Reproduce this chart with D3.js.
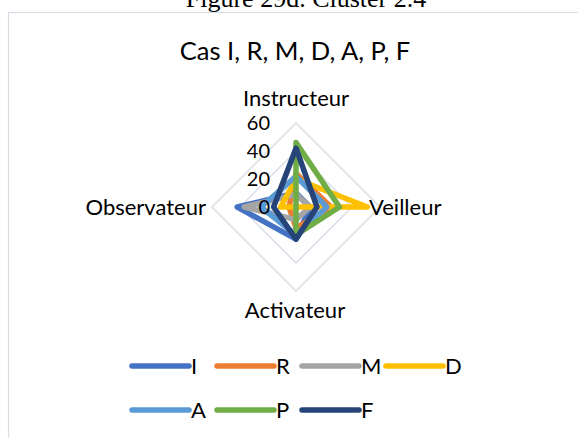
<!DOCTYPE html>
<html><head><meta charset="utf-8">
<script src="https://cdn.jsdelivr.net/npm/d3@7"></script>
<style>body{margin:0;background:#fff}svg{display:block}</style>
</head><body>
<script>
const categories = ["Instructeur","Veilleur","Activateur","Observateur"];
const seriesNames = ["I","R","M","D","A","P","F"];
const I = [10, 10, 23, 42];
const R = [24, 25, 15, 5];
const M = [9, 10, 9, 37];
const D = [20, 51, 0, 11];
const A = [22, 22, 20, 25];
const P = [46, 31, 20, 0];
const F = [42, 15, 23, 16];
const seriesValues = [I, R, M, D, A, P, F];
const colors = ["#4472C4","#ED7D31","#A5A5A5","#FFC000","#5B9BD5","#70AD47","#264478"];
const tickValues = [0, 20, 40, 60];

const W = 578, H = 438;
const svg = d3.select("body").append("svg").attr("width", W).attr("height", H);
const font = "Lato, 'Open Sans', sans-serif";

// figure caption (partly above the top edge, as in the reference)
svg.append("text").attr("x", 306).attr("y", 7).attr("text-anchor","middle")
  .attr("font-family","'Liberation Serif', 'Times New Roman', serif").attr("font-size", 26)
  .attr("fill","#000").text("Figure 29d. Cluster 2.4");

// chart frame
svg.append("rect").attr("x", 8.5).attr("y", 12.5).attr("width", 600).attr("height", 500)
  .attr("fill","#fff").attr("stroke","#d9dee6").attr("stroke-width",1.2);

svg.append("text").attr("x", 295).attr("y", 60).attr("text-anchor","middle")
  .attr("font-family", font).attr("font-size", 25.5).attr("fill","#000")
  .text("Cas I, R, M, D, A, P, F");

const cx = 296, cy = 207;
const r = d3.scaleLinear().domain([0, 60]).range([0, 84]);
const ang = d3.scalePoint().domain(categories).range([0, 2*Math.PI*3/4]);
const pt = (c, v) => {
  const a = ang(c);
  return [cx + r(v)*Math.sin(a), cy - r(v)*Math.cos(a)];
};

const g = svg.append("g");
// grid
tickValues.filter(t => t > 0).forEach(t => {
  g.append("path")
    .attr("d", d3.line()(categories.map(c => pt(c, t))) + "Z")
    .attr("fill","none").attr("stroke","#d9dee6").attr("stroke-width",1.5);
});

// series
const line = d3.line().curve(d3.curveLinearClosed);
seriesValues.forEach((vals, i) => {
  g.append("path")
    .attr("d", line(categories.map((c, k) => pt(c, vals[k]))))
    .attr("fill","none").attr("stroke", colors[i]).attr("stroke-width", 5.5)
    .attr("stroke-linejoin","round");
});

// tick labels
tickValues.forEach(t => {
  g.append("text").attr("x", cx - 26).attr("y", cy - r(t)).attr("dy","0.36em")
    .attr("text-anchor","end").attr("font-family", font).attr("font-size", 20)
    .attr("fill","#000").text(t);
});

// category labels
const labelPos = {
  "Instructeur": {x: cx, y: 106, anchor: "middle"},
  "Veilleur": {x: 369, y: 215, anchor: "start"},
  "Activateur": {x: cx - 1, y: 318, anchor: "middle"},
  "Observateur": {x: 206, y: 215, anchor: "end"}
};
categories.forEach(c => {
  const p = labelPos[c];
  g.append("text").attr("x", p.x).attr("y", p.y).attr("text-anchor", p.anchor)
    .attr("font-family", font).attr("font-size", 22).attr("fill","#000").text(c);
});

// legend
const legX = [132, 217, 302, 386];
seriesNames.forEach((n, i) => {
  const row = Math.floor(i / 4), col = i % 4;
  const x0 = legX[col], y0 = 366 + row * 44;
  svg.append("line").attr("x1", x0).attr("x2", x0 + 57).attr("y1", y0).attr("y2", y0)
    .attr("stroke", colors[i]).attr("stroke-width", 5.5).attr("stroke-linecap","round");
  svg.append("text").attr("x", x0 + 59).attr("y", y0 + 8)
    .attr("font-family", font).attr("font-size", 22).attr("fill","#000").text(n);
});
</script>
</body></html>
